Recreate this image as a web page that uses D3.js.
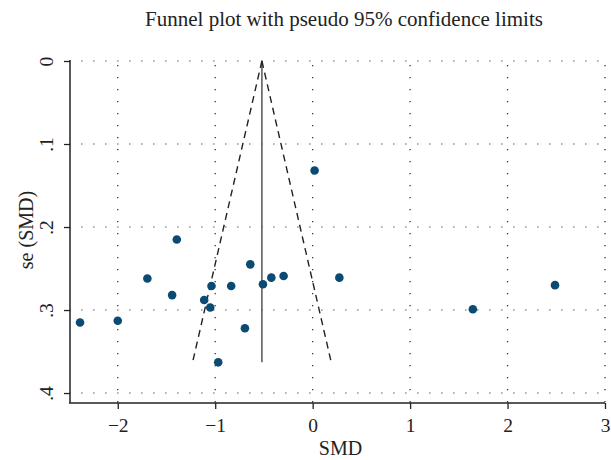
<!DOCTYPE html>
<html>
<head>
<meta charset="utf-8">
<script src="https://cdn.jsdelivr.net/npm/d3@7"></script>
<style>
html,body{margin:0;padding:0;background:#fff;}
svg text{font-family:"Liberation Serif","DejaVu Serif",serif;fill:#222;}
</style>
</head>
<body>
<svg id="chart" width="611" height="460"></svg>
<script>
// Study data
const smd = [0.02, -1.394, -0.640, -1.696, -0.424, -0.298, 0.274, -0.510, -1.038, -0.836,
             -1.442, -1.113, -1.051, -2.387, -2.000, -0.695, -0.969, 1.644, 2.487];
const se  = [0.132, 0.215, 0.245, 0.262, 0.261, 0.259, 0.261, 0.269, 0.271, 0.271,
             0.282, 0.288, 0.297, 0.315, 0.313, 0.322, 0.363, 0.299, 0.270];
const xTicks = [-2, -1, 0, 1, 2, 3];
const xTickLabels = ["\u22122", "\u22121", "0", "1", "2", "3"];
const yTicks = [0, 0.1, 0.2, 0.3, 0.4];
const yTickLabels = ["0", ".1", ".2", ".3", ".4"];
const titleText = "Funnel plot with pseudo 95% confidence limits";
const xTitle = "SMD";
const yTitle = "se (SMD)";
const zCrit = 1.96;

const svg = d3.select("#chart");
const pL = 70, pR = 605, pT = 61, pB = 403;

const x = d3.scaleLinear().domain([-2.49, 3.0]).range([pL, pR]);
const y = d3.scaleLinear().domain([0, 0.412]).range([pT, pB]);

// pooled fixed-effect estimate
const w = se.map(s => 1 / (s * s));
const pooled = d3.sum(smd.map((v, i) => v * w[i])) / d3.sum(w);
const seMax = d3.max(se);

// gridlines
const g = svg.append("g");
g.selectAll(".hgrid").data(yTicks).join("line")
  .attr("x1", pL).attr("x2", pR)
  .attr("y1", d => y(d)).attr("y2", d => y(d))
  .attr("stroke", "#999").attr("stroke-width", 1.6)
  .attr("stroke-dasharray", "1.6,10.4").attr("stroke-dashoffset", -11);
g.selectAll(".vgrid").data(xTicks).join("line")
  .attr("x1", d => x(d)).attr("x2", d => x(d))
  .attr("y1", pT).attr("y2", pB)
  .attr("stroke", "#333").attr("stroke-width", 1.3)
  .attr("stroke-dasharray", "1.3,10.7").attr("stroke-dashoffset", -4);

// funnel
const apex = [x(pooled), y(0)];
svg.append("line")
  .attr("x1", x(pooled)).attr("x2", x(pooled))
  .attr("y1", y(0)).attr("y2", y(seMax))
  .attr("stroke", "#555").attr("stroke-width", 1.5);
[-1, 1].forEach(sgn => {
  svg.append("line")
    .attr("x1", apex[0]).attr("y1", apex[1])
    .attr("x2", x(pooled + sgn * zCrit * seMax)).attr("y2", y(seMax))
    .attr("stroke", "#222").attr("stroke-width", 1.4)
    .attr("stroke-dasharray", "7,5");
});

// points
svg.selectAll(".pt").data(smd).join("circle")
  .attr("cx", d => x(d)).attr("cy", (d, i) => y(se[i]))
  .attr("r", 4.3).attr("fill", "#0b4a72");

// axes
const xAxis = d3.axisBottom(x).tickValues(xTicks)
  .tickFormat((d, i) => xTickLabels[i]).tickSize(6).tickPadding(6);
const xa = svg.append("g").attr("transform", `translate(0,${pB})`).call(xAxis);
xa.select(".domain").attr("d", `M${pL - 1},0H${pR}`).attr("stroke", "#222").attr("stroke-width", 1.5);
xa.selectAll(".tick line").attr("stroke", "#222").attr("stroke-width", 1.3);
xa.selectAll(".tick text").attr("y", 29).attr("dy", "0")
  .style("font-size", "19.5px").style("font-family", "Liberation Serif").attr("fill", "#222");

const yAxis = d3.axisLeft(y).tickValues(yTicks)
  .tickFormat((d, i) => yTickLabels[i]).tickSize(6).tickPadding(0);
const ya = svg.append("g").attr("transform", `translate(${pL},0)`).call(yAxis);
ya.select(".domain").attr("d", `M0,${pT - 1}V${pB}`).attr("stroke", "#222").attr("stroke-width", 1.5);
ya.selectAll(".tick line").attr("stroke", "#222").attr("stroke-width", 1.3);
ya.selectAll(".tick text")
  .attr("x", null).attr("dy", null)
  .attr("transform", "translate(-17,0) rotate(-90)")
  .attr("text-anchor", "middle").attr("dy", "0")
  .style("font-size", "19.5px").style("font-family", "Liberation Serif").attr("fill", "#222");

// titles
svg.append("text").attr("x", 344).attr("y", 26).attr("text-anchor", "middle")
  .style("font-size", "21px").text(titleText);
svg.append("text").attr("x", 340.5).attr("y", 455).attr("text-anchor", "middle")
  .style("font-size", "20px").text(xTitle);
svg.append("text").attr("transform", "translate(33,230) rotate(-90)").attr("text-anchor", "middle")
  .style("font-size", "20px").text(yTitle);
</script>
</body>
</html>
